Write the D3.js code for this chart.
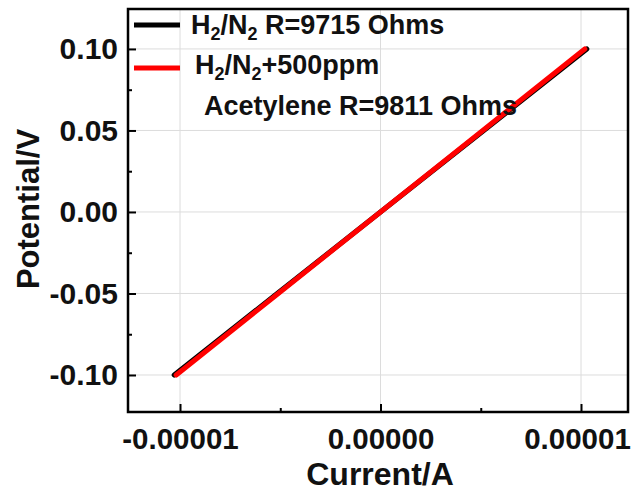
<!DOCTYPE html>
<html><head><meta charset="utf-8">
<script src="https://cdn.jsdelivr.net/npm/d3@7"></script>
<style>body{margin:0;background:#fff}svg{display:block;font-family:"Liberation Sans",Arial,sans-serif;font-weight:bold}</style>
</head><body><svg id="c" width="633" height="492"></svg>
<script>
const potential = [-0.10, -0.05, 0.00, 0.05, 0.10];
const currentH2N2 = [-1.029e-5, -0.515e-5, 0.0, 0.515e-5, 1.029e-5];
const currentAcetylene = [-1.019e-5, -0.510e-5, 0.0, 0.510e-5, 1.019e-5];
const xTicks = [-1e-5, 0, 1e-5];
const xTickLabels = ["-0.00001", "0.00000", "0.00001"];
const xMinor = [-1.5e-5, -0.5e-5, 0.5e-5, 1.5e-5];
const yTicks = [-0.10, -0.05, 0.00, 0.05, 0.10];
const yTickLabels = ["-0.10", "-0.05", "0.00", "0.05", "0.10"];
const yMinor = [-0.125, -0.075, -0.025, 0.025, 0.075, 0.125];

const L = 128, R = 628, T = 9, B = 412;
const svg = d3.select("#c");
const x = d3.scaleLinear().domain([-1.2594e-5, 1.2344e-5]).range([L, R]);
const y = d3.scaleLinear().domain([-0.1227, 0.1245]).range([B, T]);

// grid
svg.append("g").selectAll("line").data(xTicks).join("line")
  .attr("x1", d => x(d)).attr("x2", d => x(d)).attr("y1", T).attr("y2", B)
  .attr("stroke", "#dcdcdc").attr("stroke-width", 1);
svg.append("g").selectAll("line").data(yTicks).join("line")
  .attr("y1", d => y(d)).attr("y2", d => y(d)).attr("x1", L).attr("x2", R)
  .attr("stroke", "#dcdcdc").attr("stroke-width", 1);

// axes
const xAxis = d3.axisBottom(x).tickValues(xTicks).tickSizeInner(-8).tickSizeOuter(0)
  .tickFormat((d, i) => xTickLabels[i]).tickPadding(16);
const gx = svg.append("g").attr("transform", `translate(0,${B})`).call(xAxis);
gx.select(".domain").remove();
gx.selectAll(".tick line").attr("stroke", "#000").attr("stroke-width", 2);
gx.selectAll(".tick text").attr("font-size", 29.5).attr("font-weight", "bold").attr("fill", "#111")
  .attr("font-family", '"Liberation Sans",Arial,sans-serif')
  .attr("dx", (d, i) => i === xTicks.length - 1 ? -4 : 0);
const gxm = svg.append("g").attr("transform", `translate(0,${B})`)
  .call(d3.axisBottom(x).tickValues(xMinor.filter(d => x(d) > L && x(d) < R)).tickSizeInner(-4).tickSizeOuter(0).tickFormat(""));
gxm.select(".domain").remove();
gxm.selectAll(".tick line").attr("stroke", "#000").attr("stroke-width", 2);

const yAxis = d3.axisLeft(y).tickValues(yTicks).tickSizeInner(-8).tickSizeOuter(0)
  .tickFormat((d, i) => yTickLabels[i]).tickPadding(10);
const gy = svg.append("g").attr("transform", `translate(${L},0)`).call(yAxis);
gy.select(".domain").remove();
gy.selectAll(".tick line").attr("stroke", "#000").attr("stroke-width", 2);
gy.selectAll(".tick text").attr("font-size", 30).attr("font-weight", "bold").attr("fill", "#111")
  .attr("font-family", '"Liberation Sans",Arial,sans-serif');
const gym = svg.append("g").attr("transform", `translate(${L},0)`)
  .call(d3.axisLeft(y).tickValues(yMinor.filter(d => y(d) > T && y(d) < B)).tickSizeInner(-4).tickSizeOuter(0).tickFormat(""));
gym.select(".domain").remove();
gym.selectAll(".tick line").attr("stroke", "#000").attr("stroke-width", 2);

// data lines
const line = d3.line().x(d => x(d[0])).y(d => y(d[1]));
svg.append("path").datum(currentH2N2.map((c, i) => [c, potential[i]]))
  .attr("d", line).attr("fill", "none").attr("stroke", "#000").attr("stroke-width", 5).attr("stroke-linecap", "round");
svg.append("path").datum(currentAcetylene.map((c, i) => [c, potential[i]]))
  .attr("d", line).attr("fill", "none").attr("stroke", "#ff0000").attr("stroke-width", 5).attr("stroke-linecap", "round");

// frame
svg.append("rect").attr("x", L).attr("y", T).attr("width", R - L).attr("height", B - T)
  .attr("fill", "none").attr("stroke", "#000").attr("stroke-width", 2.5);

// legend
const lg = svg.append("g").attr("fill", "#111");
lg.append("line").attr("x1", 134).attr("x2", 180).attr("y1", 25).attr("y2", 25).attr("stroke", "#000").attr("stroke-width", 5);
lg.append("line").attr("x1", 134).attr("x2", 180).attr("y1", 68).attr("y2", 68).attr("stroke", "#ff0000").attr("stroke-width", 5);
function sub(parts, x0, y0) {
  const tx = lg.append("text").attr("x", x0).attr("y", y0).attr("font-size", 27);
  parts.forEach(p => {
    const s = tx.append("tspan").text(p[0]);
    if (p[1]) s.attr("font-size", 18).attr("dy", 6);
    else if (p[2]) s.attr("dy", -6);
  });
}
sub([["H"], ["2", 1], ["/N", 0, 1], ["2", 1], [" R=9715 Ohms", 0, 1]], 191, 34);
sub([["H"], ["2", 1], ["/N", 0, 1], ["2", 1], ["+500ppm", 0, 1]], 195, 74);
lg.append("text").attr("x", 204).attr("y", 115).attr("font-size", 27).text("Acetylene R=9811 Ohms");

// axis titles
svg.append("text").attr("x", 380).attr("y", 485).attr("text-anchor", "middle")
  .attr("font-size", 32).attr("fill", "#111").text("Current/A");
svg.append("text").attr("transform", "translate(39,209) rotate(-90)").attr("text-anchor", "middle")
  .attr("font-size", 31).attr("fill", "#111").text("Potential/V");
</script></body></html>
